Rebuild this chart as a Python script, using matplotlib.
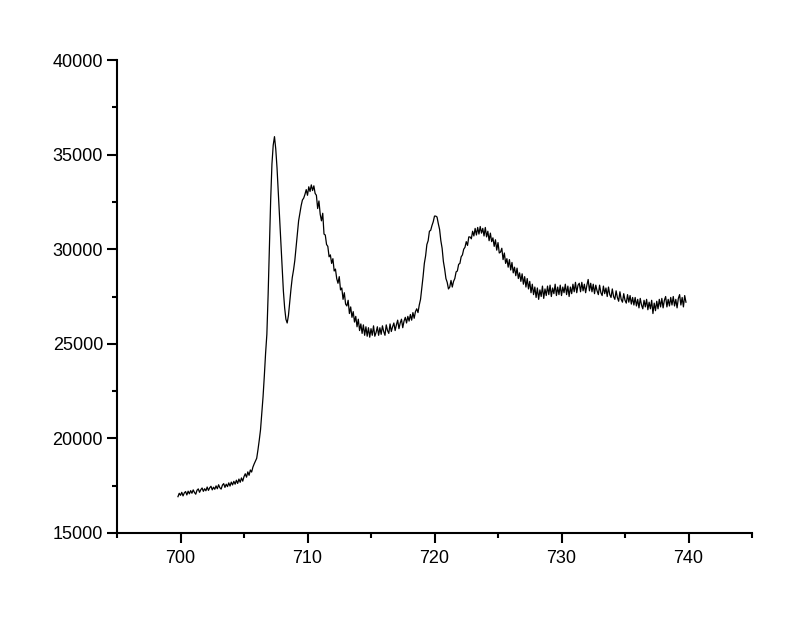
#!/usr/bin/env python3
import numpy as np
import matplotlib
matplotlib.use("Agg")
import matplotlib.pyplot as plt
from matplotlib.ticker import MultipleLocator

# ---- Data (energy grid starts at 699.8, step 0.1)
E_START = 699.8
E_STEP = 0.1
counts = [
    16920, 17100, 16990, 17150, 16960, 17120, 17190, 17010, 17210, 17070,  # 699.8
    17240, 17100, 17280, 17140, 17050, 17260, 17330, 17150, 17290, 17380,  # 700.8
    17200, 17340, 17230, 17430, 17250, 17390, 17470, 17280, 17420, 17310,  # 701.8
    17490, 17340, 17550, 17390, 17320, 17530, 17610, 17410, 17580, 17450,  # 702.8
    17650, 17480, 17690, 17540, 17730, 17580, 17790, 17620, 17850, 17680,  # 703.8
    17910, 17740, 17980, 18130, 17950, 18230, 18050, 18330, 18220, 18480,  # 704.8
    18650, 18800, 18950, 19400, 19900, 20450, 21300, 22200, 23300, 24500,  # 705.8
    25500, 27600, 30000, 32600, 34500, 35500, 35950, 35300, 34300, 33000,  # 706.8
    31600, 30500, 29200, 27800, 26900, 26300, 26100, 26500, 27200, 27900,  # 707.8
    28500, 28900, 29400, 30100, 30800, 31500, 31900, 32300, 32600, 32700,  # 708.8
    32900, 33150, 32850, 33300, 33050, 33400, 33100, 33350, 32950, 32850,  # 709.8
    32150, 32550, 31850, 31500, 31900, 30800, 30750, 30250, 30150, 29600,  # 710.8
    29700, 29250, 29500, 28850, 28950, 28450, 28200, 28550, 27850, 27950,  # 711.8
    27350, 27700, 27100, 27000, 27300, 26600, 26950, 26400, 26700, 26150,  # 712.8
    26450, 25900, 26300, 25700, 26050, 25550, 26000, 25450, 25900, 25400,  # 713.8
    25850, 25350, 25800, 25450, 25950, 25400, 25600, 25900, 25450, 25850,  # 714.8
    25500, 25950, 25650, 25450, 26000, 25700, 25550, 26050, 25650, 25900,  # 715.8
    26100, 25700, 26000, 26250, 25800, 26100, 26300, 25850, 26200, 26400,  # 716.8
    26100, 26450, 26200, 26550, 26250, 26650, 26350, 26700, 26850, 26650,  # 717.8
    27050, 27350, 27950, 28550, 29250, 29650, 30250, 30450, 30950, 31000,  # 718.8
    31250, 31450, 31750, 31750, 31700, 31350, 31050, 30450, 30050, 29350,  # 719.8
    28950, 28450, 28250, 27900, 28000, 28350, 28000, 28300, 28450, 28800,  # 720.8
    28850, 29200, 29250, 29600, 29700, 30000, 30100, 30400, 30200, 30650,  # 721.8
    30650, 30550, 30950, 30700, 31100, 30750, 31150, 30800, 31200, 30850,  # 722.8
    31100, 30700, 31150, 30650, 30950, 30450, 30850, 30400, 30600, 30150,  # 723.8
    30500, 29950, 30350, 29800, 29850, 30050, 29450, 29800, 29250, 29500,  # 724.8
    29050, 29450, 28900, 29300, 28750, 29050, 28600, 29000, 28450, 28750,  # 725.8
    28300, 28700, 28150, 28550, 28000, 28450, 27900, 28300, 27700, 28150,  # 726.8
    27600, 28000, 27450, 27950, 27350, 27850, 27500, 28050, 27400, 27900,  # 727.8
    27550, 28050, 27600, 28100, 27500, 27950, 27650, 28150, 27550, 28000,  # 728.8
    27600, 28100, 27550, 28000, 27700, 28150, 27600, 28050, 27500, 28000,  # 729.8
    27650, 28150, 27750, 28250, 27700, 28100, 28200, 27750, 28250, 27800,  # 730.8
    28150, 27700, 28100, 28400, 27800, 28200, 27750, 28150, 27650, 28100,  # 731.8
    27800, 27600, 28100, 27700, 27550, 28050, 27650, 27950, 27500, 28000,  # 732.8
    27600, 27450, 27900, 27500, 27350, 27800, 27450, 27250, 27750, 27350,  # 733.8
    27200, 27650, 27300, 27150, 27600, 27200, 27550, 27100, 27450, 27050,  # 734.8
    27450, 27000, 27350, 26900, 27400, 27050, 26850, 27300, 26950, 27350,  # 735.8
    26800, 27200, 26850, 27300, 26600, 27150, 26750, 27250, 26850, 27350,  # 736.8
    26950, 27400, 26900, 27300, 27500, 26950, 27350, 27000, 27450, 27050,  # 737.8
    27500, 27000, 27350, 26900, 27400, 27600, 27050, 27450, 26950, 27550,  # 738.8
    27200,                                                                 # 739.8
]
energy = np.round(E_START + E_STEP * np.arange(len(counts)), 1)

X_TICKS = [700, 710, 720, 730, 740]
Y_TICKS = [15000, 20000, 25000, 30000, 35000, 40000]


def main():
    plt.rcParams["font.family"] = ["Liberation Sans", "DejaVu Sans"]

    fig = plt.figure(figsize=(8.0, 6.22), dpi=100)
    ax = fig.add_axes([0.14625, 0.1431, 0.79375, 0.7604])

    ax.plot(energy, counts, color="black", lw=0.9)

    ax.set_xlim(695, 745)
    ax.set_ylim(15000, 40000)
    ax.set_xticks(X_TICKS)
    ax.set_yticks(Y_TICKS)
    ax.xaxis.set_minor_locator(MultipleLocator(5))
    ax.yaxis.set_minor_locator(MultipleLocator(2500))

    # only left/bottom axis lines, ticks pointing out
    for side in ("top", "right"):
        ax.spines[side].set_visible(False)
    for side in ("left", "bottom"):
        ax.spines[side].set_linewidth(1.5)
    ax.tick_params(which="major", direction="out", length=7, width=1.5,
                   labelsize=13, pad=3)
    ax.tick_params(which="minor", direction="out", length=3.6, width=1.5)
    ax.tick_params(axis="x", which="major", pad=5)

    fig.savefig("out.png", dpi=100)
    plt.close(fig)


if __name__ == "__main__":
    main()
